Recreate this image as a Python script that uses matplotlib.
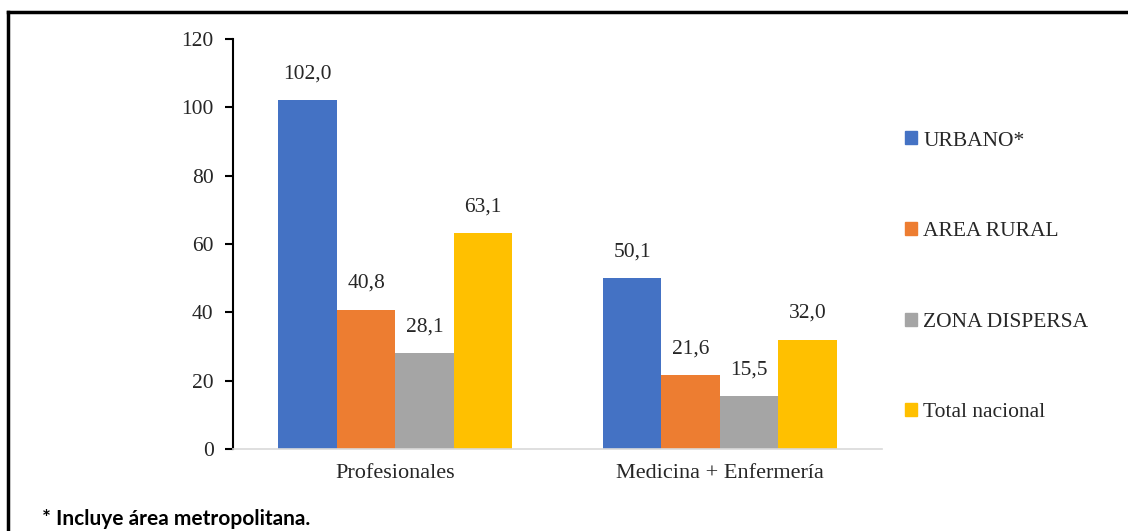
import matplotlib.pyplot as plt
import numpy as np
from matplotlib.lines import Line2D
from matplotlib.patches import Patch

categorias = ["Profesionales", "Medicina + Enfermería"]
series = ["URBANO*", "AREA RURAL", "ZONA DISPERSA", "Total nacional"]
urbano = [102.0, 50.1]
rural = [40.8, 21.6]
dispersa = [28.1, 15.5]
total = [63.1, 32.0]
colores = ["#4472C4", "#ED7D31", "#A5A5A5", "#FFC000"]

plt.rcParams['font.family'] = ['Liberation Serif', 'DejaVu Serif']

fig = plt.figure(figsize=(11.28, 5.31), dpi=100)
ax = fig.add_axes([0.2066, 0.1544, 0.5755, 0.7722])

x = np.arange(len(categorias))
w = 0.18
valores = [urbano, rural, dispersa, total]
for i, (vals, col) in enumerate(zip(valores, colores)):
    pos = x + (i - 1.5) * w
    bars = ax.bar(pos, vals, w, color=col, label=series[i])
    for b, v in zip(bars, vals):
        ax.annotate(f"{v:.1f}".replace(".", ","), (b.get_x() + b.get_width() / 2, v),
                    xytext=(0, 12), textcoords="offset points", ha="center", va="bottom",
                    fontsize=15.5, color="#262626")

ax.set_xlim(-0.5, 1.5)
ax.set_ylim(0, 120)
ax.set_yticks(range(0, 121, 20))
ax.set_xticks(x)
ax.set_xticklabels(categorias)
ax.tick_params(axis='x', length=0, labelsize=16, pad=11, colors="#262626")
ax.tick_params(axis='y', length=6, width=1.5, labelsize=15.5, pad=8, colors="black")
for lab in ax.get_yticklabels():
    lab.set_color("#262626")
ax.spines['top'].set_visible(False)
ax.spines['right'].set_visible(False)
ax.spines['left'].set_linewidth(1.5)
ax.spines['bottom'].set_color("#D9D9D9")
ax.spines['bottom'].set_linewidth(1.2)

handles = [Patch(color=c) for c in colores]
fig.legend(handles, series, loc="upper left", bbox_to_anchor=(0.785, 0.789),
           frameon=False, fontsize=15.5, handlelength=0.55, handleheight=0.55,
           handletextpad=0.3, labelspacing=3.32, labelcolor="#262626")

# marco del recuadro
fig.add_artist(Line2D([0.0075, 1.0], [0.978, 0.978], color="black", lw=2.5))
fig.add_artist(Line2D([0.0075, 0.0075], [0.0, 0.978], color="black", lw=2.5))

fig.text(0.037, 0.004, "* Incluye área metropolitana.", fontsize=15,
         family="Lato", weight="bold", color="black", va="bottom")

fig.savefig("out.png", dpi=100)
